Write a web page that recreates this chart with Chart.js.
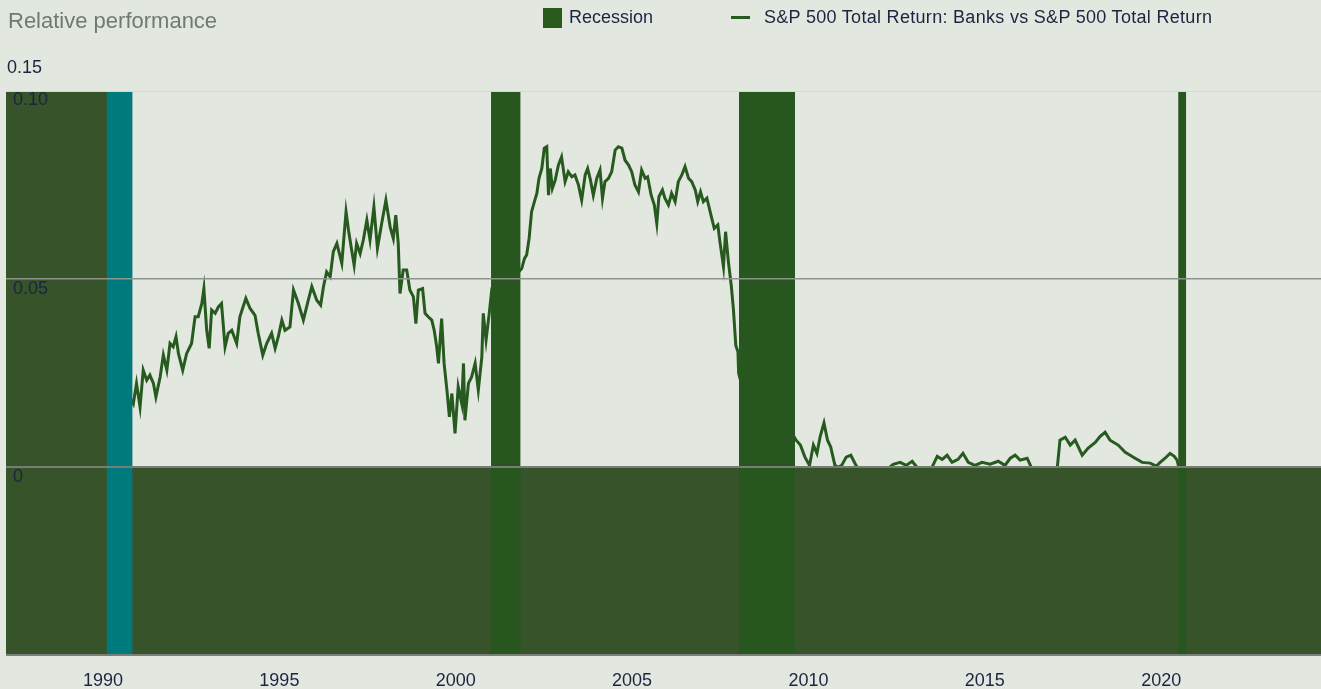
<!DOCTYPE html>
<html>
<head>
<meta charset="utf-8">
<script src="https://cdn.jsdelivr.net/npm/chart.js@4.4.0/dist/chart.umd.min.js"></script>
<style>
html,body{margin:0;padding:0;background:#e2e7e0;overflow:hidden;}
#wrap{position:relative;width:1321px;height:689px;font-family:"Liberation Sans",Arial,sans-serif;overflow:hidden;}
#c{position:absolute;left:0;top:0;}
#title{position:absolute;left:8px;top:8px;font-size:22px;line-height:26px;color:#6f7a73;white-space:nowrap;}
.legtext{position:absolute;top:6px;font-size:18px;line-height:22px;color:#1c2440;white-space:nowrap;}
#legbox{position:absolute;left:543px;top:8px;width:19px;height:20px;background:#295a1e;}
#legline{position:absolute;left:731px;top:16px;width:19px;height:3px;background:#275a1f;}
</style>
</head>
<body>
<div id="wrap">
<canvas id="c" width="1321" height="689"></canvas>
<div id="title">Relative performance</div>
<div id="legbox"></div>
<div class="legtext" style="left:569px">Recession</div>
<div id="legline"></div>
<div class="legtext" style="left:764px;letter-spacing:0.3px">S&amp;P 500 Total Return: Banks vs S&amp;P 500 Total Return</div>
</div>
<script>
// ---- data ----
const xTickYears = [1990, 1995, 2000, 2005, 2010, 2015, 2020];
const yTickValues = [0.10, 0.05, 0];
const yTickLabels = ["0.10", "0.05", "0"];
const yTopLabel = "0.15";
const yGridValues = [-0.05, 0, 0.05, 0.10];

const recessionStart = [1990.10, 2001.00, 2008.03, 2020.48];
const recessionEnd   = [1990.84, 2001.84, 2009.62, 2020.71];

const shadeYears  = [1987.25, 1990.30, 1990.30, 2024.53];
const shadeValues = [0.10, 0.10, 0, 0];

const lineYears = [
1990.80,1990.86,1990.95,1991.05,1991.14,1991.24,1991.33,1991.43,1991.50,1991.62,1991.71,1991.81,1991.90,1991.99,
1992.07,1992.14,1992.26,1992.37,1992.51,1992.61,1992.70,1992.80,1992.86,1992.94,1993.01,1993.08,1993.18,1993.27,
1993.36,1993.46,1993.55,1993.65,1993.79,1993.88,1994.05,1994.17,1994.31,1994.40,1994.53,1994.64,1994.78,1994.88,
1994.97,1995.07,1995.16,1995.30,1995.40,1995.54,1995.68,1995.82,1995.92,1996.06,1996.17,1996.25,1996.34,1996.44,
1996.53,1996.63,1996.77,1996.89,1996.96,1997.05,1997.12,1997.19,1997.29,1997.38,1997.48,1997.57,1997.68,1997.78,
1997.90,1998.02,1998.14,1998.23,1998.30,1998.37,1998.42,1998.51,1998.61,1998.70,1998.80,1998.87,1998.94,1999.06,
1999.13,1999.22,1999.32,1999.39,1999.46,1999.51,1999.60,1999.67,1999.75,1999.82,1999.89,1999.98,2000.07,2000.17,
2000.22,2000.26,2000.36,2000.45,2000.55,2000.64,2000.74,2000.78,2000.86,2000.95,2001.02,2001.30,2001.60,2001.87,
2001.95,2002.01,2002.08,2002.15,2002.23,2002.30,2002.36,2002.44,2002.51,2002.58,2002.63,2002.68,2002.74,2002.82,
2002.91,2003.00,2003.10,2003.19,2003.29,2003.38,2003.48,2003.57,2003.67,2003.74,2003.82,2003.90,2004.00,2004.09,
2004.16,2004.23,2004.33,2004.42,2004.52,2004.61,2004.71,2004.80,2004.90,2004.99,2005.08,2005.18,2005.27,2005.37,
2005.44,2005.54,2005.63,2005.70,2005.76,2005.86,2005.93,2006.03,2006.12,2006.22,2006.31,2006.41,2006.50,2006.60,
2006.69,2006.79,2006.86,2006.94,2007.02,2007.12,2007.18,2007.26,2007.33,2007.43,2007.49,2007.59,2007.65,2007.73,
2007.81,2007.87,2007.94,2008.00,2008.02,2008.30,2008.70,2009.00,2009.30,2009.60,2009.65,2009.77,2009.90,2010.03,
2010.14,2010.24,2010.33,2010.44,2010.54,2010.63,2010.75,2010.85,2010.94,2011.07,2011.20,2011.32,2011.41,2011.74,
2012.17,2012.40,2012.60,2012.77,2012.94,2013.16,2013.45,2013.65,2013.79,2013.93,2014.07,2014.24,2014.38,2014.53,
2014.72,2014.92,2015.15,2015.38,2015.57,2015.72,2015.86,2016.00,2016.20,2016.34,2016.57,2016.85,2017.05,2017.13,
2017.28,2017.42,2017.56,2017.76,2017.93,2018.13,2018.27,2018.41,2018.55,2018.78,2018.98,2019.12,2019.26,2019.46,
2019.69,2019.86,2019.97,2020.11,2020.25,2020.37,2020.45,2020.55
];
const lineValues = [
0.0180,0.0169,0.0223,0.0160,0.0258,0.0231,0.0245,0.0223,0.0187,0.0240,0.0298,0.0258,0.0329,0.0320,
0.0347,0.0302,0.0258,0.0302,0.0329,0.0400,0.0400,0.0435,0.0475,0.0364,0.0316,0.0418,0.0409,0.0426,
0.0435,0.0320,0.0356,0.0364,0.0329,0.0400,0.0449,0.0422,0.0404,0.0356,0.0298,0.0329,0.0356,0.0316,
0.0347,0.0391,0.0364,0.0373,0.0471,0.0435,0.0391,0.0444,0.0480,0.0444,0.0431,0.0480,0.0519,0.0506,
0.0573,0.0595,0.0542,0.0679,0.0630,0.0577,0.0537,0.0595,0.0568,0.0604,0.0657,0.0604,0.0692,0.0582,
0.0648,0.0710,0.0639,0.0608,0.0670,0.0595,0.0462,0.0524,0.0524,0.0471,0.0453,0.0382,0.0471,0.0475,
0.0409,0.0400,0.0391,0.0364,0.0320,0.0276,0.0395,0.0276,0.0205,0.0134,0.0196,0.0090,0.0214,0.0169,
0.0276,0.0125,0.0223,0.0240,0.0276,0.0205,0.0293,0.0409,0.0338,0.0409,0.0471,0.0450,0.0500,0.0528,
0.0555,0.0564,0.0608,0.0679,0.0706,0.0728,0.0768,0.0794,0.0848,0.0852,0.0723,0.0794,0.0741,0.0763,
0.0803,0.0825,0.0759,0.0785,0.0772,0.0777,0.0750,0.0710,0.0777,0.0794,0.0763,0.0723,0.0768,0.0790,
0.0715,0.0759,0.0768,0.0785,0.0843,0.0852,0.0848,0.0816,0.0803,0.0785,0.0750,0.0732,0.0790,0.0768,
0.0772,0.0723,0.0697,0.0648,0.0719,0.0737,0.0715,0.0697,0.0728,0.0706,0.0759,0.0777,0.0799,0.0768,
0.0759,0.0737,0.0706,0.0732,0.0706,0.0715,0.0692,0.0661,0.0635,0.0644,0.0599,0.0533,0.0626,0.0546,
0.0484,0.0422,0.0324,0.0307,0.0250,0.0150,0.0100,0.0050,0.0060,0.0080,0.0072,0.0059,0.0027,0.0005,
0.0059,0.0037,0.0081,0.0118,0.0072,0.0054,0.0005,0.0000,0.0005,0.0027,0.0032,0.0010,-0.0005,-0.0020,
-0.0010,0.0008,0.0013,0.0005,0.0016,-0.0010,-0.0010,0.0029,0.0021,0.0032,0.0013,0.0021,0.0037,0.0013,
0.0005,0.0013,0.0008,0.0016,0.0005,0.0024,0.0032,0.0019,0.0024,-0.0005,-0.0020,-0.0010,-0.0005,0.0072,
0.0080,0.0059,0.0072,0.0032,0.0051,0.0066,0.0082,0.0093,0.0072,0.0059,0.0040,0.0032,0.0024,0.0013,
0.0011,0.0003,0.0013,0.0024,0.0037,0.0029,0.0019,-0.0020
];

// ---- styles ----
const STYLE = {
  line: '#275a1f',
  shade: '#36532a',
  recession: '#27571e',
  recessionFirst: '#007b7d',
  text: '#1c2440',
  font: '"Liberation Sans", Arial, sans-serif'
};
function gridColor(v){
  const k = Math.round(v*100);
  if (k === 10) return '#d0d6d0';
  if (k === 5) return '#8e938d';
  if (k === 0) return '#777c75';
  return '#7b7f7a';
}
function gridWidth(v){
  const k = Math.round(v*100);
  if (k === 10) return 1;
  if (k === 5) return 1.5;
  return 2;
}

const toPoints = (xs, ys) => xs.map((x, i) => ({x: x, y: ys[i]}));

const datasets = [
  {
    label: 'S&P 500 Total Return: Banks vs S&P 500 Total Return',
    data: toPoints(lineYears, lineValues),
    borderColor: STYLE.line, borderWidth: 3, pointRadius: 0, tension: 0, fill: false, order: 3
  },
  {
    label: 'shade',
    data: toPoints(shadeYears, shadeValues),
    borderColor: 'transparent', borderWidth: 0, backgroundColor: STYLE.shade,
    pointRadius: 0, fill: 'start', order: 2
  }
];
recessionStart.forEach((s, i) => {
  datasets.push({
    label: 'Recession',
    data: [{x: s, y: 0.10}, {x: recessionEnd[i], y: 0.10}],
    borderColor: 'transparent', borderWidth: 0,
    backgroundColor: i === 0 ? STYLE.recessionFirst : STYLE.recession,
    pointRadius: 0, fill: 'start', order: 1
  });
});

const yLabelPlugin = {
  id: 'ylabels',
  afterDraw(chart){
    const ctx = chart.ctx, ys = chart.scales.y, a = chart.chartArea;
    ctx.save();
    ctx.font = '18px ' + STYLE.font;
    ctx.fillStyle = STYLE.text;
    ctx.textBaseline = 'middle';
    ctx.textAlign = 'left';
    ctx.fillText(yTopLabel, a.left + 1, a.top - 23);
    yTickValues.forEach((v, i) => {
      ctx.fillText(yTickLabels[i], a.left + 7, ys.getPixelForValue(v) + 9.5);
    });
    ctx.restore();
  }
};

new Chart(document.getElementById('c'), {
  type: 'line',
  data: { datasets: datasets },
  options: {
    responsive: false,
    animation: false,
    events: [],
    layout: { padding: { left: 6, top: 91, right: 0, bottom: -18 } },
    plugins: { legend: { display: false }, tooltip: { enabled: false } },
    scales: {
      x: {
        type: 'linear',
        min: 1987.25, max: 2024.53,
        grid: { display: false, drawTicks: false },
        border: { display: false },
        afterBuildTicks: s => { s.ticks = xTickYears.map(v => ({value: v})); },
        ticks: {
          autoSkip: false, maxRotation: 0, padding: 15,
          color: STYLE.text, font: { size: 18, family: STYLE.font },
          callback: v => String(v)
        }
      },
      y: {
        type: 'linear',
        min: -0.05, max: 0.10,
        afterBuildTicks: s => { s.ticks = yGridValues.map(v => ({value: v})); },
        ticks: { display: false },
        border: { display: false },
        grid: {
          z: 1,
          drawTicks: false,
          color: c => gridColor(c.tick.value),
          lineWidth: c => gridWidth(c.tick.value)
        }
      }
    }
  },
  plugins: [yLabelPlugin]
});
</script>
</body>
</html>
